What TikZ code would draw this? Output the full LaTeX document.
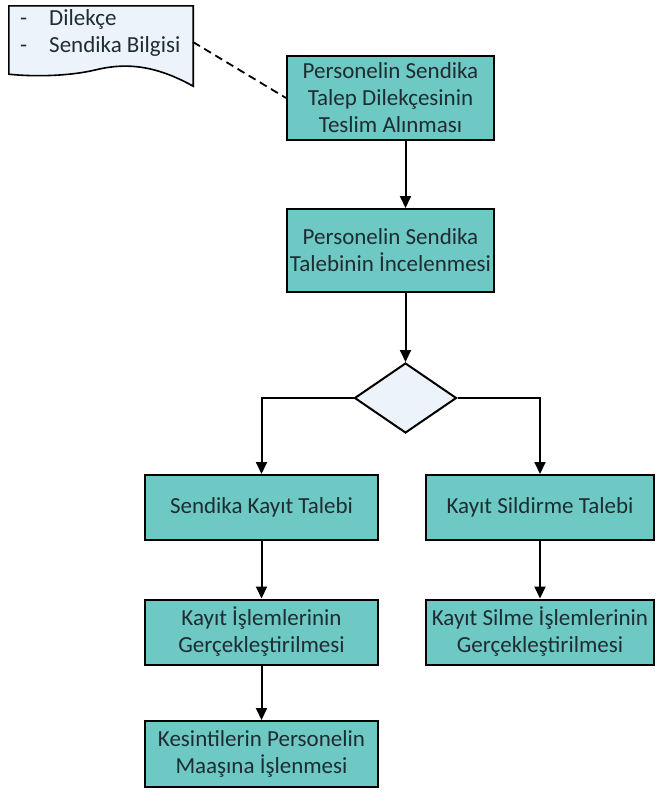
\documentclass[tikz,border=0pt]{standalone}
\usepackage{fontspec}
\setmainfont{Carlito}
\usetikzlibrary{arrows.meta,shapes.geometric}
\definecolor{teal1}{RGB}{110,200,196}
\definecolor{txt}{RGB}{30,45,50}
\definecolor{docfill}{RGB}{236,243,250}
\begin{document}
\begin{tikzpicture}[x=1pt,y=-1pt,
  procbox/.style={draw=black,line width=2pt,fill=teal1,text=txt,font=\fontsize{23}{27}\selectfont,align=center,inner sep=0pt,minimum width=#1},
  procbox/.default=208pt,
  arr/.style={line width=2pt,-{Triangle[length=12pt,width=11pt]}}]
\useasboundingbox (0,0) rectangle (656,798);
% document
\node[inner sep=0pt,minimum width=184pt,minimum height=68pt] (doc) at (101,40) {};
\fill[docfill,draw=black,line width=1.6pt] (doc.north west) -- (doc.north east) -- ([yshift=-12pt]doc.south east) .. controls (150,62) and (120,64) .. (95,70) .. controls (70,76) and (35,77) .. (doc.south west) -- cycle;
\node[anchor=west,text=txt,font=\fontsize{23}{27}\selectfont,inner sep=0pt] (doctext) at (20,34) {\begin{tabular}{@{}l@{\hspace{22pt}}l@{}}-&Dilekçe\\-&Sendika Bilgisi\end{tabular}};
\coordinate (docr) at (193,42);
% boxes
\node[procbox=207pt,minimum height=84pt] (b1) at (390.5,98) {Personelin Sendika\\Talep Dilekçesinin\\Teslim Alınması};
\node[procbox=207pt,minimum height=83pt] (b2) at (390.5,250.5) {Personelin Sendika\\Talebinin İncelenmesi};
\node[draw=black,line width=2pt,fill=docfill,diamond,aspect=1.46,minimum width=102pt,minimum height=70pt,inner sep=0pt] (d) at (405.5,398) {};
\node[procbox=233pt,minimum height=65pt] (b3) at (261.5,507.5) {Sendika Kayıt Talebi};
\node[procbox=228pt,minimum height=65pt] (b4) at (540,507.5) {Kayıt Sildirme Talebi};
\node[procbox=233pt,minimum height=65pt] (b5) at (261.5,632) {Kayıt İşlemlerinin\\Gerçekleştirilmesi};
\node[procbox=228pt,minimum height=65pt] (b6) at (540,632) {Kayıt Silme İşlemlerinin\\Gerçekleştirilmesi};
\node[procbox=233pt,minimum height=66pt] (b7) at (261.5,754) {Kesintilerin Personelin\\Maaşına İşlenmesi};
% connectors
\draw[line width=1.8pt,dash pattern=on 8pt off 5pt] (docr) -- (b1.west);
\draw[arr] (b1.south -| d.north) -- (b2.north -| d.north);
\draw[arr] (b2.south -| d.north) -- (d.north);
\draw[arr] (d.west) -| (b3.north);
\draw[arr] (d.east) -| (b4.north);
\draw[arr] (b3) -- (b5);
\draw[arr] (b4) -- (b6);
\draw[arr] (b5) -- (b7);
\end{tikzpicture}
\end{document}
